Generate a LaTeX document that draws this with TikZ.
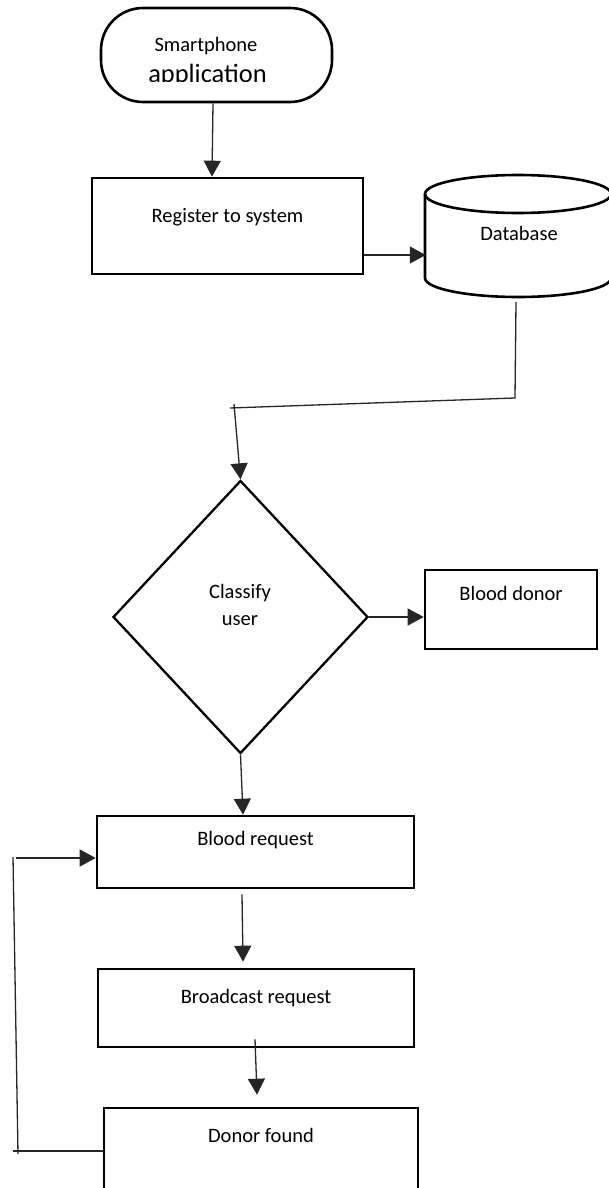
\documentclass[tikz,border=0pt]{standalone}
\usepackage{fontspec}
\setmainfont{Carlito}
\usetikzlibrary{arrows.meta,shapes.geometric,calc}
\begin{document}
\begin{tikzpicture}[x=1pt,y=-1pt,
  box/.style={draw=black, line width=2.6pt, rectangle, inner sep=0pt, font=\fontsize{20.5}{24}\selectfont, text height=15pt},
  conn/.style={draw=black!85, line width=1.3pt},
  arr/.style={conn, -{Triangle[length=16pt,width=17pt]}},
  txt/.style={font=\fontsize{20.5}{27}\selectfont, inner sep=0pt}
]
\useasboundingbox (0,0) rectangle (609,1188);
\clip (0,0) rectangle (609,1188);

% terminal
\node[draw, line width=2.6pt, rounded corners=42pt, minimum width=231pt, minimum height=94pt, inner sep=0pt] (term) at (216.5,55) {};
\node[txt, anchor=base] (t1) at (206,52) {Smartphone};
\begin{scope}
  \clip (100,0) rectangle (340,82);
  \node[txt, font=\fontsize{26.4}{30}\selectfont, anchor=base] (t2) at (207.5,82.5) {application};
\end{scope}

% register
\node[box, minimum width=271pt, minimum height=96pt, text depth=23pt] (reg) at (227.5,226) {Register to system};

% database cylinder
\draw[line width=2.6pt] (425,194) -- (425,278) arc[start angle=180, end angle=360, x radius=93pt, y radius=19pt] -- (611,194);
\draw[line width=2.6pt] (518,194) ellipse[x radius=93pt, y radius=19pt];
\node[txt, minimum width=186pt, minimum height=122pt, text height=15pt, text depth=7pt] (db) at (519,236) {Database};

% diamond
\node[draw, diamond, line width=2.3pt, minimum width=255pt, minimum height=273pt, inner sep=0pt] (dia) at (240.5,617) {};
\node[txt, align=center] (diat) at (240,604.5) {Classify\\user};

% boxes
\node[box, minimum width=172pt, minimum height=79pt, text depth=34pt] (donor) at (511,609.5) {Blood donor};
\node[box, minimum width=317pt, minimum height=72pt, text depth=29pt] (req) at (255.5,852) {Blood request};
\node[box, minimum width=316pt, minimum height=78pt, text depth=25pt] (bc) at (256,1008) {Broadcast request};
\node[box, minimum width=314pt, minimum height=84pt, text depth=31pt] (found) at (261,1150) {Donor found};

% connectors
\draw[arr] (term.south -| 213,0) -- (reg.north -| 212,0);
\draw[arr] (reg.east |- 0,255) -- (db.west |- 0,255);

\coordinate (c1) at (515,398);
\coordinate (c2) at (230,408);
\coordinate (c3) at (234,404);
\draw[conn] ($(db.south)+(-3,5)$) -- (c1) -- (c2);
\draw[arr] (c3) -- (dia.north);

\draw[arr] (dia.east) -- (dia.east -| donor.west);
\draw[arr] (dia.south) -- (req.north -| 243,0);
\draw[arr] ($(req.south)+(-13.5,5)$) -- ($(bc.north)+(-13,-6)$);
\draw[arr] ($(bc.south)+(-1,-9)$) -- ($(found.north)+(-4,-12)$);

\coordinate (f1) at (13,1151);
\coordinate (f2) at (18,1154);
\coordinate (f3) at (13,857);
\coordinate (f4) at (16,858);
\draw[conn] (found.west |- 0,1151) -- (f1);
\draw[conn] (f2) -- (f3);
\draw[arr] (f4) -- (req.west |- 0,858);
\end{tikzpicture}
\end{document}
